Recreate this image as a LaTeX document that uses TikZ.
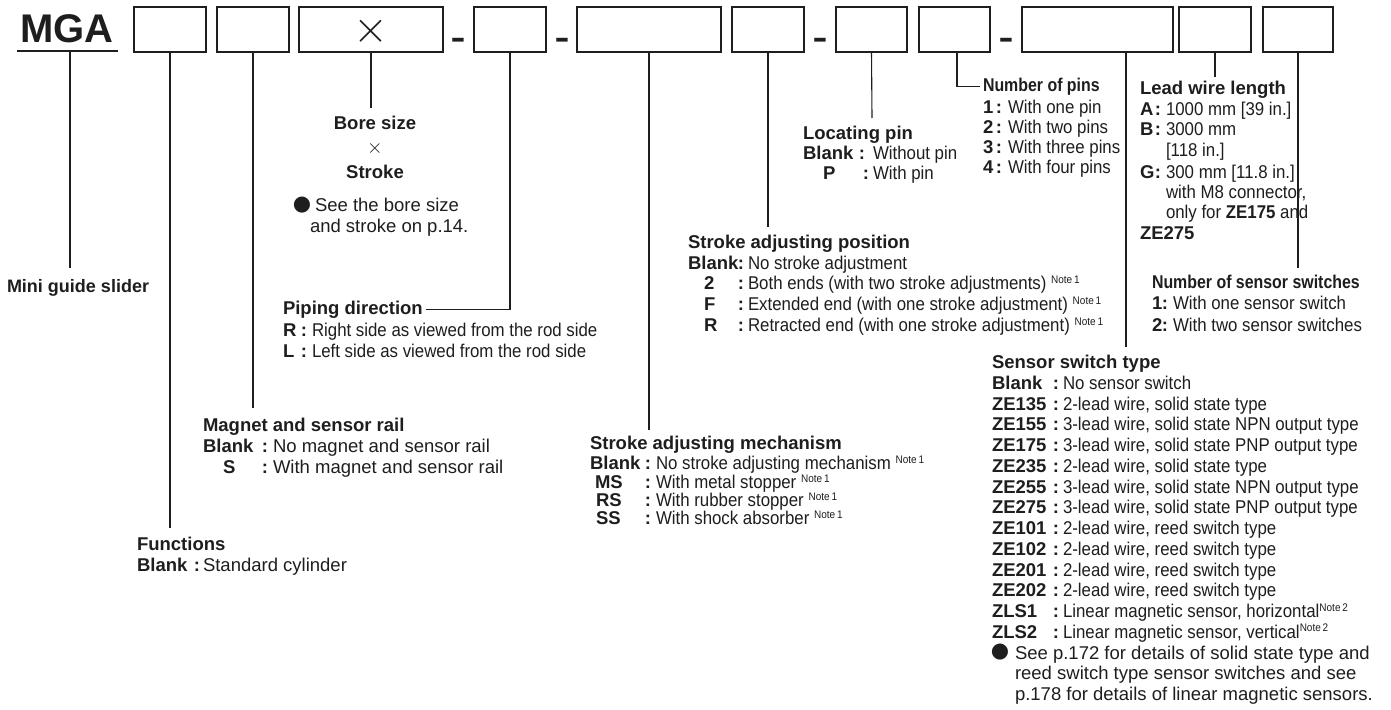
\documentclass[tikz,border=0pt]{standalone}
\usepackage{fontspec}
\setmainfont{Liberation Sans}
\newfontfamily\cond[FakeStretch=0.91]{Liberation Sans}
\newfontfamily\condt[FakeStretch=0.86]{Liberation Sans}
\newfontfamily\dashfont[FakeStretch=1.4]{Liberation Sans}
\newfontfamily\dejavu{DejaVu Sans}
\definecolor{ink}{HTML}{1E1E1E}
\newcommand\nte[1]{\raisebox{6.5pt}{\cond\fontsize{11}{11}\selectfont Note\,#1}}
\newcommand\myrow[8][dsc]{%
  \node[ttl] (#2c) at (#3,#4) {#5};
  \node[ttl,anchor=base] (#2k) at (#6,#4) {:};
  \node[#1] (#2t) at (#7,#4) {#8};}
\begin{document}
\begin{tikzpicture}[x=1pt,y=-1pt,
  lbl/.style={anchor=base west,inner sep=0pt,outer sep=0pt,text=ink},
  ttl/.style={lbl,font=\bfseries\fontsize{18.5}{20}\selectfont},
  ttlc/.style={lbl,font=\condt\bfseries\fontsize{18.5}{20}\selectfont},
  dsc/.style={lbl,font=\cond\fontsize{18.5}{20}\selectfont},
  wid/.style={lbl,font=\fontsize{18.5}{20}\selectfont},
  slot/.style={draw=ink,line width=1.4pt,minimum height=45pt,minimum width=72pt,inner sep=0pt},
  lead/.style={draw=ink,line width=1.1pt},
  sepdash/.style={anchor=base,inner sep=0pt,text=ink,font=\dashfont\bfseries\fontsize{32}{32}\selectfont}]
\useasboundingbox (0,0) rectangle (1391,709);
\fill[white] (0,0) rectangle (1391,709);

% ---- code row ----
\node[lbl,font=\bfseries\fontsize{40}{40}\selectfont] (mga) at (20,43) {MGA};
\coordinate (ul1) at (17,51);
\coordinate (ul2) at (118,51);
\draw[lead,line width=1.4pt] (ul1) -- (ul2);
\node[slot] (b1) at (170,29.5) {};
\node[slot] (b2) at (253,29.5) {};
\node[slot,minimum width=144pt] (b3) at (371,29.5) {};
\node[inner sep=0pt,text=ink,scale=4.5] (bx) at (371,31) {$\times$};
\node[sepdash] (d1) at (458,48.5) {-};
\node[slot] (b4) at (510,29.5) {};
\node[sepdash] (d2) at (562,48.5) {-};
\node[slot,minimum width=144pt] (b5) at (649,29.5) {};
\node[slot] (b6) at (768,29.5) {};
\node[sepdash] (d3) at (820,48.5) {-};
\node[slot,minimum width=71pt] (b7) at (871.5,29.5) {};
\node[slot,minimum width=71pt] (b8) at (954.5,29.5) {};
\node[sepdash] (d4) at (1006,48.5) {-};
\node[slot,minimum width=151pt] (b9) at (1097.5,29.5) {};
\node[slot] (b10) at (1215,29.5) {};
\node[slot,minimum width=70pt] (b11) at (1298,29.5) {};

% ---- Mini guide slider ----
\node[ttl,font=\bfseries\fontsize{18}{20}\selectfont] (mgs) at (7,292.5) {Mini guide slider};
\coordinate (mgaU) at (70,51);
\coordinate (e0) at (70,268);
\draw[lead] (mgaU) -- (e0);

% ---- Functions ----
\node[ttl] (fun) at (137,550.5) {Functions};
\myrow[wid]{funA}{137}{571.5}{Blank}{197}{203}{Standard cylinder}
\coordinate (e1) at (170,528);
\draw[lead] (b1.south) -- (e1);

% ---- Magnet ----
\node[ttl] (mag) at (203,431.5) {Magnet and sensor rail};
\myrow[wid]{magA}{203}{452.5}{Blank}{265}{273}{No magnet and sensor rail}
\myrow[wid]{magB}{223}{473.5}{S}{265}{273}{With magnet and sensor rail}
\coordinate (e2) at (253,408);
\draw[lead] (b2.south) -- (e2);

% ---- Bore size x Stroke ----
\node[ttl,anchor=base] (bore) at (375,129.5) {Bore size};
\node[inner sep=0pt,text=ink,scale=2] (bx2) at (375,148) {$\times$};
\node[ttl,anchor=base] (strk) at (375,178.5) {Stroke};
\node[inner sep=0pt,text=ink,font=\dejavu\fontsize{21}{21}\selectfont] (bul1) at (302,205) {●};
\node[wid] (see1) at (315,211.5) {See the bore size};
\node[wid] (see2) at (310,232.5) {and stroke on p.14.};
\coordinate (e3) at (371,108);
\draw[lead] (b3.south) -- (e3);

% ---- Piping direction ----
\node[ttl] (pip) at (283,314.5) {Piping direction};
\myrow{pipA}{283}{336.5}{R}{304}{312}{Right side as viewed from the rod side}
\myrow{pipB}{283}{357.5}{L}{304}{312}{Left side as viewed from the rod side}
\draw[lead] (b4.south) |- ([xshift=3pt]pip.east);

% ---- Stroke adjusting mechanism ----
\node[ttl] (sam) at (590,449.5) {Stroke adjusting mechanism};
\myrow{samA}{590}{469.5}{Blank}{648}{656}{No stroke adjusting mechanism \nte1}
\myrow{samB}{595}{488.5}{MS}{648}{656}{With metal stopper \nte1}
\myrow{samC}{596}{506.5}{RS}{648}{656}{With rubber stopper \nte1}
\myrow{samD}{596}{524.5}{SS}{648}{656}{With shock absorber \nte1}
\coordinate (e5) at (649,430);
\draw[lead] (b5.south) -- (e5);

% ---- Stroke adjusting position ----
\node[ttl] (sap) at (688,248.5) {Stroke adjusting position};
\myrow{sapA}{688}{269.5}{Blank}{741}{748}{No stroke adjustment}
\myrow{sapB}{704}{289.5}{2}{741}{748}{Both ends (with two stroke adjustments) \nte1}
\myrow{sapC}{704}{310.5}{F}{741}{748}{Extended end (with one stroke adjustment) \nte1}
\myrow{sapD}{704}{331.5}{R}{741}{748}{Retracted end (with one stroke adjustment) \nte1}
\coordinate (e6) at (768,227);
\draw[lead] (b6.south) -- (e6);

% ---- Locating pin ----
\node[ttl] (lp) at (803,139.5) {Locating pin};
\myrow{lpA}{803}{159.5}{Blank}{862}{873}{Without pin}
\myrow{lpB}{823}{179.5}{P}{866}{873}{With pin}
\coordinate (e7) at (872,118);
\draw[lead] (b7.south) -- (e7);

% ---- Number of pins ----
\node[ttlc] (np) at (983,91.5) {Number of pins};
\myrow{npA}{983}{113.5}{1}{999}{1008}{With one pin}
\myrow{npB}{983}{133.5}{2}{999}{1008}{With two pins}
\myrow{npC}{983}{153.5}{3}{999}{1008}{With three pins}
\myrow{npD}{983}{173.5}{4}{999}{1008}{With four pins}
\draw[lead] ([xshift=2.5pt]b8.south) |- ([xshift=-3pt]np.west);

% ---- Sensor switch type ----
\node[ttl] (sst) at (992,368.5) {Sensor switch type};
\myrow{sA}{992}{389.25}{Blank}{1056}{1063}{No sensor switch}
\myrow{sB}{992}{410}{ZE135}{1056}{1063}{2-lead wire, solid state type}
\myrow{sC}{992}{430.75}{ZE155}{1056}{1063}{3-lead wire, solid state NPN output type}
\myrow{sD}{992}{451.5}{ZE175}{1056}{1063}{3-lead wire, solid state PNP output type}
\myrow{sE}{992}{472.25}{ZE235}{1056}{1063}{2-lead wire, solid state type}
\myrow{sF}{992}{493}{ZE255}{1056}{1063}{3-lead wire, solid state NPN output type}
\myrow{sG}{992}{513.75}{ZE275}{1056}{1063}{3-lead wire, solid state PNP output type}
\myrow{sH}{992}{534.5}{ZE101}{1056}{1063}{2-lead wire, reed switch type}
\myrow{sI}{992}{555.25}{ZE102}{1056}{1063}{2-lead wire, reed switch type}
\myrow{sJ}{992}{576}{ZE201}{1056}{1063}{2-lead wire, reed switch type}
\myrow{sK}{992}{596.75}{ZE202}{1056}{1063}{2-lead wire, reed switch type}
\myrow{sL}{992}{617.5}{ZLS1}{1056}{1063}{Linear magnetic sensor, horizontal\nte2}
\myrow{sM}{992}{638.25}{ZLS2}{1056}{1063}{Linear magnetic sensor, vertical\nte2}
\node[inner sep=0pt,text=ink,font=\dejavu\fontsize{21}{21}\selectfont] (bul2) at (1000,652.5) {●};
\node[wid] (sN1) at (1015,659) {See p.172 for details of solid state type and};
\node[wid] (sN2) at (1015,679.75) {reed switch type sensor switches and see};
\node[wid] (sN3) at (1015,700.5) {p.178 for details of linear magnetic sensors.};
\coordinate (e9) at (1126,347);
\draw[lead] ([xshift=28.5pt]b9.south) -- (e9);

% ---- Lead wire length ----
\node[ttl] (lw) at (1140,94.5) {Lead wire length};
\myrow{lwA}{1140}{115.5}{A}{1158}{1166}{1000 mm [39 in.]}
\myrow{lwB}{1140}{135.5}{B}{1158}{1166}{3000 mm}
\node[dsc] (lwB2) at (1166,156.5) {[118 in.]};
\myrow{lwG}{1140}{178.5}{G}{1158}{1166}{300 mm [11.8 in.]}
\node[dsc] (lwG2) at (1166,198.5) {with M8 connector,};
\node[dsc] (lwG3) at (1166,218.5) {only for \textbf{ZE175} and};
\node[ttl] (lwG4) at (1140,239.5) {ZE275};
\coordinate (e10) at (1215,77);
\draw[lead] (b10.south) -- (e10);

% ---- Number of sensor switches ----
\node[ttlc] (nss) at (1152,288.5) {Number of sensor switches};
\myrow{nsA}{1152}{309.5}{1}{1165}{1173}{With one sensor switch}
\myrow{nsB}{1152}{331.5}{2}{1165}{1173}{With two sensor switches}
\coordinate (e11) at (1298,268);
\draw[lead] (b11.south) -- (e11);
\end{tikzpicture}
\end{document}
